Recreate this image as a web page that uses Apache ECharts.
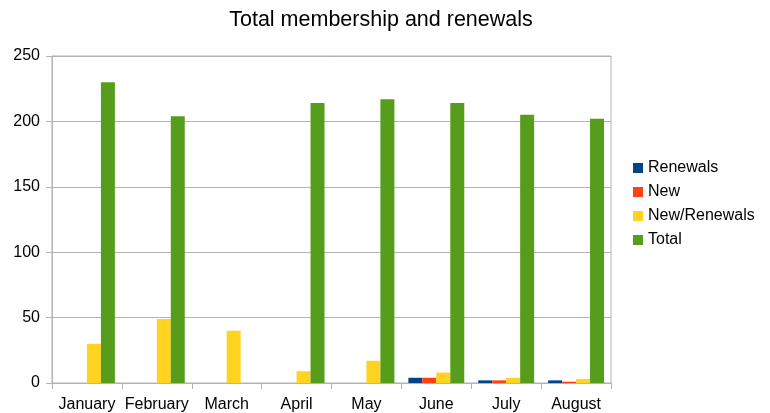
<!DOCTYPE html>
<html>
<head>
<meta charset="utf-8">
<script src="https://cdn.jsdelivr.net/npm/echarts@6/dist/echarts.min.js"></script>
<style>
  html, body { margin: 0; padding: 0; background: #fff; }
  #chart { width: 770px; height: 413px; }
</style>
</head>
<body>
<div id="chart"></div>
<script>
// data
const months = ["January", "February", "March", "April", "May", "June", "July", "August"];
const renewals = [null, null, null, null, null, 4, 2, 2];
const newMembers = [null, null, null, null, null, 4, 2, 1];
const newRenewals = [30, 49, 40, 9, 17, 8, 4, 3];
const total = [230, 204, null, 214, 217, 214, 205, 202];

const colors = ["#004586", "#ff420e", "#ffd320", "#579d1c"];

const chart = echarts.init(document.getElementById("chart"));

const bar = (name, data) => ({
  name: name,
  type: "bar",
  data: data,
  barGap: "0%",
  barCategoryGap: "20%",
});

chart.setOption({
  animation: false,
  color: colors,
  textStyle: { fontFamily: "Liberation Sans" },
  title: {
    text: "Total membership and renewals",
    left: 381,
    textAlign: "center",
    top: 9,
    padding: 0,
    textStyle: { fontSize: 21.5, fontWeight: "normal", color: "#000" },
  },
  legend: {
    orient: "vertical",
    left: 633,
    top: 160,
    padding: 0,
    itemWidth: 10,
    itemHeight: 10,
    itemGap: 8,
    icon: "rect",
    textStyle: { fontSize: 16, color: "#000" },
  },
  grid: {
    left: 52,
    right: 159,
    top: 56,
    bottom: 30,
    show: true,
    borderColor: "#b3b3b3",
    borderWidth: 1,
  },
  xAxis: {
    type: "category",
    data: months,
    axisLine: { lineStyle: { color: "#b3b3b3" } },
    axisTick: { show: true, length: 6, lineStyle: { color: "#b3b3b3" } },
    axisLabel: { color: "#000", fontSize: 16, margin: 14, interval: 0 },
  },
  yAxis: {
    type: "value",
    min: 0,
    max: 250,
    interval: 50,
    axisLine: { show: true, lineStyle: { color: "#b3b3b3" } },
    axisTick: { show: true, length: 6, lineStyle: { color: "#b3b3b3" } },
    axisLabel: { color: "#000", fontSize: 16, margin: 12 },
    splitLine: { lineStyle: { color: "#b3b3b3" } },
  },
  series: [
    bar("Renewals", renewals),
    bar("New", newMembers),
    bar("New/Renewals", newRenewals),
    bar("Total", total),
  ],
});
</script>
</body>
</html>
